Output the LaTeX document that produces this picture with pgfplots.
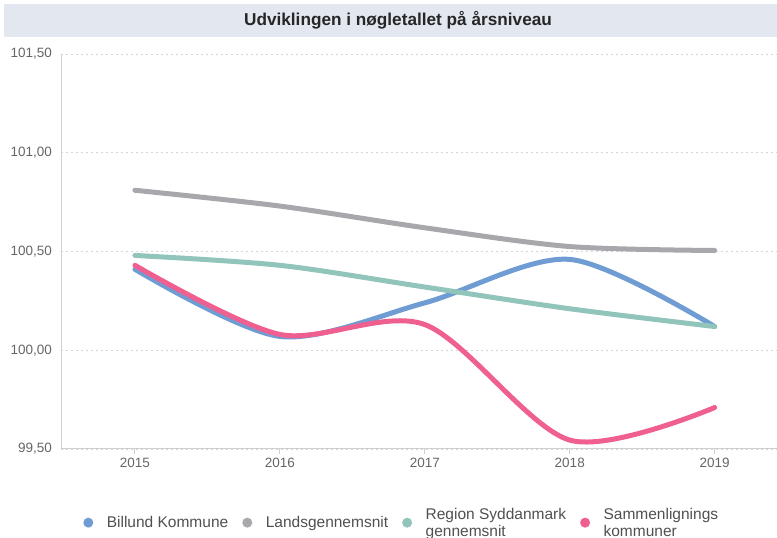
\documentclass[border=0pt]{standalone}
\usepackage{fontspec}
\setmainfont{Liberation Sans}
\usepackage{pgfplots}
\pgfplotsset{compat=1.18}
\definecolor{cBlue}{HTML}{6F9CD3}
\definecolor{cGray}{HTML}{A7A7AC}
\definecolor{cTeal}{HTML}{91C4BB}
\definecolor{cPink}{HTML}{EF6090}
\definecolor{titlebg}{HTML}{E3E8F0}
\definecolor{gridc}{HTML}{D6D6D6}
\definecolor{axisc}{HTML}{CFCFCF}
\definecolor{ticktext}{HTML}{666666}
\definecolor{legtext}{HTML}{505050}
\begin{document}
\begin{tikzpicture}[x=1bp,y=1bp]
\path[use as bounding box] (0,0) rectangle (777,538);
\fill[titlebg] (4,501) rectangle (777,534);
\node[font=\fontsize{17.2bp}{20bp}\selectfont\bfseries, text=black!85] at (398,518) {Udviklingen i nøgletallet på årsniveau};
\begin{axis}[
  at={(61bp,89bp)}, anchor=south west,
  scale only axis, width=716bp, height=395bp,
  xmin=2014.49, xmax=2019.43,
  ymin=99.5, ymax=101.5,
  xtick={2015,2016,2017,2018,2019},
  xticklabels={2015,2016,2017,2018,2019},
  ytick={99.5,100,100.5,101,101.5},
  axis x line=bottom, axis y line=left,
  axis line style={draw=axisc, line width=1bp, -},
  xtick align=outside, ytick align=inside,
  major tick length=5bp,
  xtick style={draw=axisc, line width=1bp},
  ytick style={draw=none},
  ymajorgrids,
  grid style={dash pattern=on 2bp off 3bp, draw=gridc, line width=0.8bp},
  /pgf/number format/assume math mode=true,
  ticklabel style={font=\fontsize{13.5bp}{15bp}\selectfont, text=ticktext, inner sep=0pt},
  yticklabel style={xshift=-9bp, /pgf/number format/.cd, use comma, fixed, fixed zerofill, precision=2},
  xticklabel style={yshift=-4bp},
  legend style={at={(0.4745,-0.1865)}, anchor=center, draw=none, fill=none,
    font=\fontsize{15.5bp}{16.5bp}\selectfont, text=legtext,
    nodes={inner sep=0pt},
    /tikz/every even column/.append style={column sep=14bp},
    /tikz/every odd column/.append style={column sep=13.5bp}},
  legend columns=4,
  legend cell align=left,
  legend image code/.code={\fill[#1, draw=none] (0bp,0bp) circle (5bp);},
]
\addplot[cBlue, line width=5bp, smooth, line cap=round] coordinates {(2015,100.41)(2016,100.07)(2017,100.24)(2018,100.46)(2019,100.12)};
\addlegendentry{Billund Kommune}
\addplot[cGray, line width=5bp, smooth, line cap=round] coordinates {(2015,100.81)(2016,100.73)(2017,100.62)(2018,100.525)(2019,100.505)};
\addlegendentry{Landsgennemsnit}
\addplot[cTeal, line width=5bp, smooth, line cap=round] coordinates {(2015,100.48)(2016,100.43)(2017,100.32)(2018,100.21)(2019,100.12)};
\addlegendentry{\raisebox{7.5bp}{\begin{tabular}{@{}l@{}}Region Syddanmark\\gennemsnit\end{tabular}}}
\addplot[cPink, line width=5bp, smooth, line cap=round] coordinates {(2015,100.43)(2016,100.08)(2017,100.13)(2018,99.545)(2019,99.71)};
\addlegendentry{\raisebox{7.5bp}{\begin{tabular}{@{}l@{}}Sammenlignings\\kommuner\end{tabular}}}
\end{axis}
\end{tikzpicture}
\end{document}
